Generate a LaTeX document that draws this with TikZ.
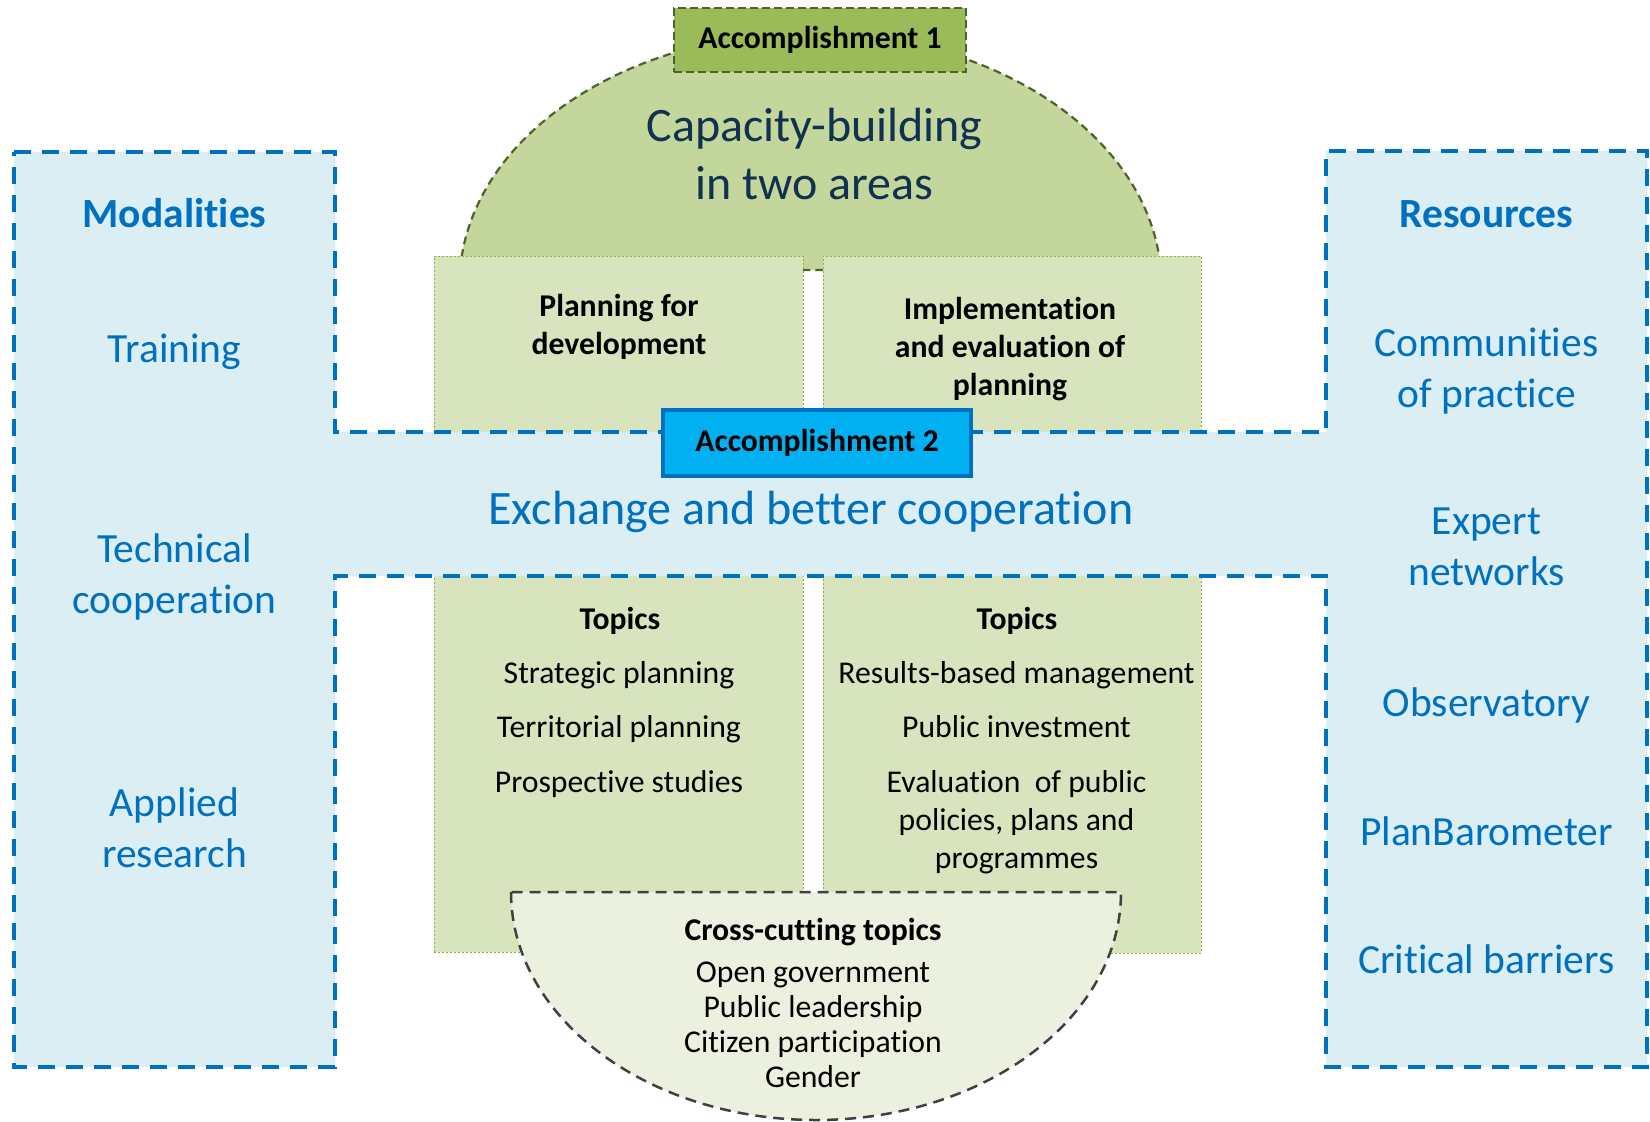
\documentclass[tikz,border=0pt]{standalone}
\usepackage{fontspec}
\setmainfont{Carlito}[Ligatures=NoCommon]
\definecolor{hblue}{HTML}{DAEEF3}
\definecolor{dblue}{HTML}{0070C0}
\definecolor{cyanbox}{HTML}{00B0F0}
\definecolor{gbox}{HTML}{D7E4BD}
\definecolor{gboxline}{HTML}{8DB04A}
\definecolor{garc}{HTML}{C3D69B}
\definecolor{olive}{HTML}{4F6228}
\definecolor{accg}{HTML}{9BBB59}
\definecolor{crossfill}{HTML}{EBF1DE}
\definecolor{navy}{HTML}{12304F}
\definecolor{dgray}{HTML}{404040}
\begin{document}
\begin{tikzpicture}[x=1pt,y=-1pt,
  hshape/.style={fill=hblue, draw=dblue, line width=3.7pt, dash pattern=on 17pt off 11pt, line join=miter},
  arcshape/.style={fill=garc, draw=olive, line width=2.2pt, dash pattern=on 8pt off 5pt},
  crossshape/.style={fill=crossfill, draw=dgray, line width=2.5pt, dash pattern=on 11pt off 7pt},
  gboxst/.style={rectangle, fill=gbox, draw=gboxline, line width=1pt, dash pattern=on 2pt off 2pt, inner sep=0pt, outer sep=0pt},
  acconebox/.style={rectangle, fill=accg, draw=olive, line width=2.2pt, dash pattern=on 8pt off 4pt, inner sep=0pt, font=\bfseries\fontsize{31.7}{38}\selectfont, text=black},
  acctwobox/.style={rectangle, fill=cyanbox, draw=dblue, line width=3.5pt, inner sep=0pt, font=\bfseries\fontsize{31.7}{38}\selectfont, text=black},
  coltext/.style={text=dblue, align=center, inner sep=0pt, anchor=base, font=\fontsize{41.5}{50.6}\selectfont},
  colhead/.style={coltext, font=\bfseries\fontsize{41.5}{50.6}\selectfont},
  bigtext/.style={align=center, inner sep=0pt, anchor=base, font=\fontsize{48}{58}\selectfont},
  boxtitle/.style={align=center, inner sep=0pt, anchor=base, text=black, font=\bfseries\fontsize{31.7}{38}\selectfont},
  boxitem/.style={align=center, inner sep=0pt, anchor=base, text=black, font=\fontsize{31.7}{38}\selectfont},
  ccitem/.style={align=center, inner sep=0pt, anchor=base, text=black, font=\fontsize{31.7}{34.8}\selectfont}
]
\fill[white] (0,0) rectangle (1650,1122);
\useasboundingbox (0,0) rectangle (1650,1122);

% top half-ellipse (Accomplishment 1 area)
\draw[arcshape] (460.1,270) arc[start angle=176.59, end angle=3.41, x radius=351pt, y radius=252pt] -- cycle;

% green boxes
\node[gboxst, minimum width=369pt, minimum height=696pt] (boxL) at (618.5,604) {};
\node[gboxst, minimum width=378pt, minimum height=697pt] (boxR) at (1012,604.5) {};

% H-shaped blue area
\draw[hshape] (14,152) -- (335,152) -- (335,432) -- (1326,432) -- (1326,151) -- (1647,151) -- (1647,1067) -- (1326,1067) -- (1326,576) -- (335,576) -- (335,1067) -- (14,1067) -- cycle;

% accomplishment boxes
\node[acctwobox, minimum width=308pt, minimum height=66pt] (acc2) at (817,443) {Accomplishment 2};
\node[acconebox, minimum width=292pt, minimum height=64pt] (acc1) at (820,40) {Accomplishment 1};

% cross-cutting half-ellipse
\draw[crossshape] (511,892) arc[start angle=180, end angle=360, x radius=305pt, y radius=228pt] -- cycle;

% big texts (anchor base = last line)
\node[bigtext, text=navy] (cap) at (814.5,199) {Capacity-building\\in two areas};
\node[bigtext, text=dblue] (exch) at (811,524) {Exchange and better cooperation};

% left column
\node[colhead] (modal) at (174.5,227) {Modalities};
\node[coltext] (train) at (174.5,362) {Training};
\node[coltext] (tech) at (174.5,613) {Technical\\cooperation};
\node[coltext] (appl) at (174.5,867) {Applied\\research};

% right column
\node[colhead] (res) at (1486.5,227) {Resources};
\node[coltext] (comm) at (1486.5,407) {Communities\\of practice};
\node[coltext] (expert) at (1486.5,585) {Expert\\networks};
\node[coltext] (obs) at (1486.5,716) {Observatory};
\node[coltext] (plan) at (1486.5,845) {PlanBarometer};
\node[coltext] (crit) at (1486.5,973) {Critical barriers};

% box texts
\node[boxtitle] (pfd) at (619,354) {Planning for\\development};
\node[boxtitle] (iep) at (1010,395) {Implementation\\and evaluation of\\planning};
\node[boxtitle] (topL) at (620,629) {Topics};
\node[boxtitle] (topR) at (1017,629) {Topics};
\node[boxitem] (listL) at (619,792) {Strategic planning\\[16.5pt]Territorial planning\\[16.5pt]Prospective studies};
\node[boxitem] (listR) at (1016.5,868) {Results-based management\\[16.5pt]Public investment\\[16.5pt]Evaluation~ of public\\policies, plans and\\programmes};

% cross-cutting texts
\node[boxtitle] (ccT) at (813,940) {Cross-cutting topics};
\node[ccitem] (ccL) at (813,1087) {Open government\\Public leadership\\Citizen participation\\Gender};
\end{tikzpicture}
\end{document}
